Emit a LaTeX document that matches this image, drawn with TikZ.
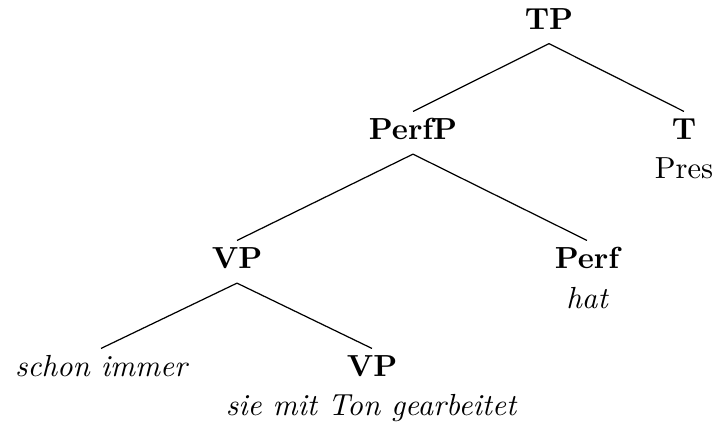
\documentclass[tikz,border=0pt]{standalone}
\begin{document}
\begin{tikzpicture}[
  x=0.328pt, y=-0.328pt,
  cat/.style={font=\bfseries, inner sep=0pt, anchor=base,
              text height=9.0pt, text depth=4.6pt},
  leaf/.style={inner sep=0pt, anchor=base, text height=9.0pt, text depth=4.6pt},
  word/.style={inner sep=0pt, anchor=base},
  branch/.style={line width=0.4pt}
]
\useasboundingbox (0,0) rectangle (714,425);

% category labels
\node[cat] (tp)    at (549,29)    {TP};
\node[cat] (perfp) at (413,139.5) {PerfP};
\node[cat] (t)     at (684,139.5) {T};
\node[cat] (vp)    at (237,268.5) {VP};
\node[cat] (perf)  at (587,268.5) {Perf};
\node[leaf,font=\itshape] (adv) at (101,376.5) {schon immer};
\node[cat] (vpl)   at (372,376.5) {VP};

% words under the heads
\node[word] (pres) at (684,178) {Pres};
\node[word,font=\itshape] (hat) at (587,308) {hat};
\node[word,font=\itshape] (rest) at (371,415) {sie mit Ton gearbeitet};

% branches
\draw[branch] (tp.south) -- (perfp.north);
\draw[branch] (tp.south) -- (t.north);
\draw[branch] (perfp.south) -- (vp.north);
\draw[branch] (perfp.south) -- (perf.north);
\draw[branch] (vp.south) -- (adv.north);
\draw[branch] (vp.south) -- (vpl.north);
\end{tikzpicture}
\end{document}
